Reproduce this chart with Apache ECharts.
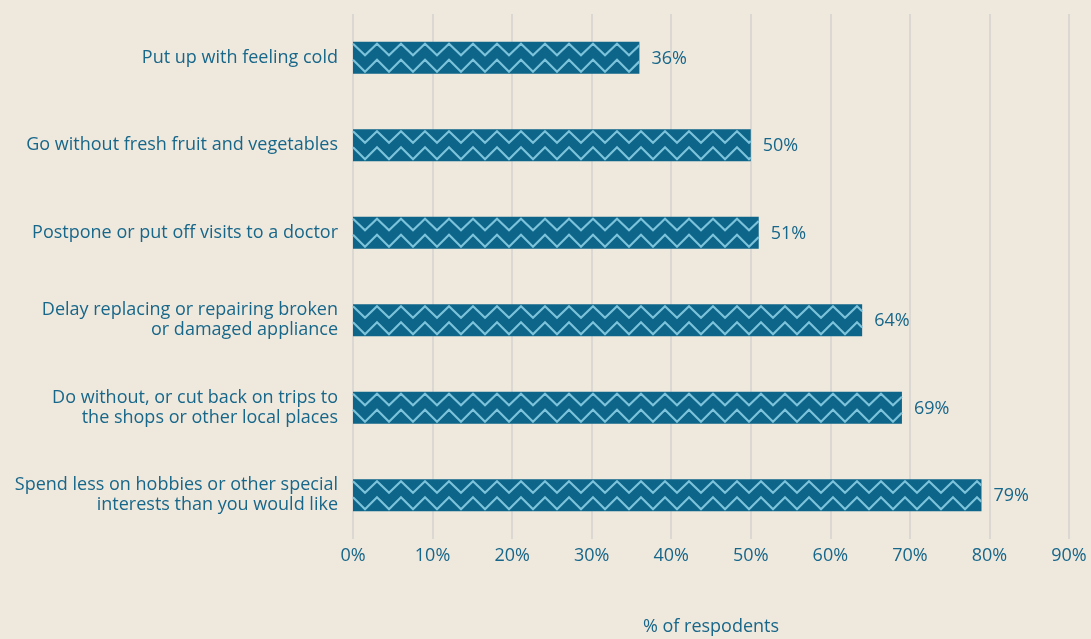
<!DOCTYPE html>
<html>
<head>
<meta charset="utf-8">
<script src="https://cdn.jsdelivr.net/npm/echarts@6/dist/echarts.min.js"></script>
<style>
  html, body { margin: 0; padding: 0; background: #efe8dd; }
  #chart { width: 1091px; height: 639px; }
</style>
</head>
<body>
<div id="chart"></div>
<script>
// Things people have cut back on, share of respondents
const categories = [
  'Put up with feeling cold',
  'Go without fresh fruit and vegetables',
  'Postpone or put off visits to a doctor',
  'Delay replacing or repairing broken\nor damaged appliance',
  'Do without, or cut back on trips to\nthe shops or other local places',
  'Spend less on hobbies or other special\ninterests than you would like'
];
const values = [36, 50, 51, 64, 69, 79];
const xTicks = [0, 10, 20, 30, 40, 50, 60, 70, 80, 90];

const TEXT = '#17678a';
const BAR = '#0d6689';
const ZIG = '#7cc2da';
const FONT = '"Open Sans", Lato, sans-serif';
const FS = 18;

const chart = echarts.init(document.getElementById('chart'), null, { renderer: 'canvas' });

// Bar with two zigzag stripes, plus its value label
function renderBar(params, api) {
  const v = api.value(0);
  const cat = api.value(1);
  const start = api.coord([0, cat]);
  const end = api.coord([v, cat]);
  const band = api.size([0, 1])[1];
  const h = Math.round(band * 0.37);
  const x0 = start[0];
  const x1 = end[0];
  const top = start[1] - h / 2;
  const half = h / 2;
  const period = 24;

  function zig(yPeak, yTrough) {
    const pts = [];
    let x = x0;
    let peak = true;
    pts.push([x0, yPeak]);
    while (x < x1) {
      const nx = x + period / 2;
      const nPeak = !peak;
      if (nx >= x1) {
        const t = (x1 - x) / (period / 2);
        const ya = peak ? yPeak : yTrough;
        const yb = nPeak ? yPeak : yTrough;
        pts.push([x1, ya + (yb - ya) * t]);
        break;
      }
      pts.push([nx, nPeak ? yPeak : yTrough]);
      x = nx;
      peak = nPeak;
    }
    return pts;
  }

  const lineStyle = { stroke: ZIG, lineWidth: 2.2, fill: null, lineJoin: 'miter' };
  return {
    type: 'group',
    children: [
      { type: 'rect', shape: { x: x0, y: top, width: x1 - x0, height: h }, style: { fill: BAR } },
      { type: 'polyline', shape: { points: zig(top + 2, top + half - 2.5) }, style: lineStyle },
      { type: 'polyline', shape: { points: zig(top + half + 2, top + h - 2) }, style: lineStyle },
      {
        type: 'text',
        x: x1 + 12,
        y: start[1] + 1,
        style: {
          text: v + '%',
          fill: TEXT,
          font: FS + 'px ' + FONT,
          textAlign: 'left',
          textVerticalAlign: 'middle'
        }
      }
    ]
  };
}

chart.setOption({
  backgroundColor: '#efe8dd',
  animation: false,
  grid: {
    left: 353, right: 22, top: 14, bottom: 100,
    containLabel: false, outerBoundsMode: 'none'
  },
  xAxis: {
    type: 'value',
    min: 0,
    max: xTicks[xTicks.length - 1],
    interval: 10,
    name: '% of respodents',
    nameLocation: 'middle',
    nameGap: 79,
    nameTextStyle: { color: TEXT, fontSize: FS, fontFamily: FONT },
    axisLine: { show: false },
    axisTick: { show: false },
    axisLabel: {
      color: TEXT, fontSize: FS, fontFamily: FONT, margin: 8,
      formatter: v => v + '%'
    },
    splitLine: { show: true, lineStyle: { color: '#dbd8d3', width: 2 } }
  },
  yAxis: {
    type: 'category',
    data: categories,
    inverse: true,
    axisLine: { show: false },
    axisTick: { show: false },
    axisLabel: {
      color: TEXT, fontSize: FS, fontFamily: FONT, margin: 15,
      align: 'right', lineHeight: 20
    },
    splitLine: { show: false }
  },
  series: [{
    type: 'custom',
    renderItem: renderBar,
    encode: { x: 0, y: 1 },
    data: values.map((v, i) => [v, i]),
    clip: false
  }]
});
</script>
</body>
</html>
